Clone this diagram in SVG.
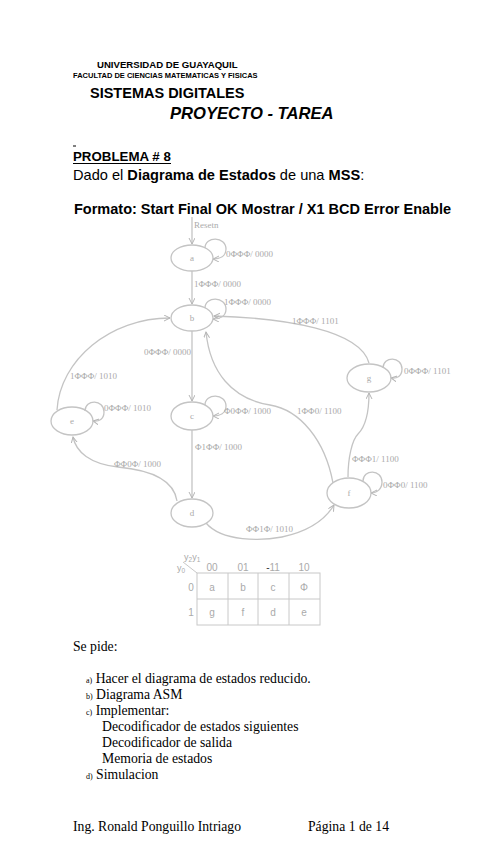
<svg xmlns="http://www.w3.org/2000/svg" width="494" height="848" viewBox="0 0 494 848">
<style>
.sans{font-family:"Liberation Sans",Arial,sans-serif}
.serif{font-family:"Liberation Serif","Times New Roman",serif}
.hb{font-weight:bold;fill:#000}
.lbl{font-family:"Liberation Serif","Times New Roman",serif;font-size:9px;fill:#aaaaaa}
.nd{fill:none;stroke:#c4c4c4;stroke-width:1.3}
.ndt{font-family:"Liberation Serif","Times New Roman",serif;font-size:9px;fill:#aaaaaa;text-anchor:middle}
.edge{fill:none;stroke:#c4c4c4;stroke-width:1.3;marker-end:url(#arr)}
.grid{fill:none;stroke:#c8c8c8;stroke-width:1}
.kt{font-family:"Liberation Sans",Arial,sans-serif;font-size:10px;fill:#aaaaaa;text-anchor:middle}
.body{font-family:"Liberation Serif","Times New Roman",serif;font-size:13.7px;fill:#000}
.sm{font-size:8px}
</style>
<defs>
<marker id="arr" markerWidth="8" markerHeight="8" refX="6" refY="3" orient="auto" markerUnits="userSpaceOnUse">
<path d="M0,0 L6,3 L0,6" fill="none" stroke="#b4b4b4" stroke-width="1"/>
</marker>
</defs>
<rect width="494" height="848" fill="#fff"/>

<g id="header">
<text class="sans hb" x="97" y="68" font-size="9.6">UNIVERSIDAD DE GUAYAQUIL</text>
<text class="sans hb" x="73" y="78" font-size="7.5">FACULTAD DE CIENCIAS MATEMATICAS Y FISICAS</text>
<text class="sans hb" x="90" y="98" font-size="14.5">SISTEMAS DIGITALES</text>
<text class="sans hb" x="170" y="119" font-size="16.6" font-style="italic">PROYECTO - TAREA</text>
<line x1="73" y1="146" x2="76" y2="146" stroke="#000" stroke-width="1"/>
<text class="sans hb" x="73" y="161" font-size="13.3">PROBLEMA # 8</text>
<line x1="73" y1="163.5" x2="171" y2="163.5" stroke="#000" stroke-width="1"/>
<text class="sans" x="73" y="180" font-size="14.6" fill="#000">Dado el <tspan font-weight="bold">Diagrama de Estados</tspan> de una <tspan font-weight="bold">MSS</tspan>:</text>
<text class="sans hb" x="74" y="214" font-size="14.5">Formato: Start Final OK Mostrar / X1 BCD Error Enable</text>
</g>

<g id="connectors">
<line class="edge" x1="192" y1="217" x2="192" y2="244"/>
<text class="lbl" x="194" y="228" font-size="7">Resetn</text>
<line class="edge" x1="192" y1="271" x2="192" y2="304"/>
<line class="edge" x1="192" y1="331" x2="192" y2="401"/>
<line class="edge" x1="192" y1="430" x2="192" y2="498"/>
<path class="edge" d="M57,410 C60,360 110,318 170,318"/>
<path class="edge" d="M177,501 C174,480 150,470 118,467 C90,464 76,452 73,437"/>
<path class="edge" d="M369,363 C360,330 285,318 214,316"/>
<path class="edge" d="M333,483 C325,440 300,410 270,405 C232,399 210,372 206,332"/>
<path class="edge" d="M348,477 C348,458 352,440 358,434 C366,426 369,410 369,393"/>
<path class="edge" d="M206,523 C222,542 262,541 282,537 C310,531 325,520 334,505"/>
<path class="edge" d="M205,248 C205,236 226,236 226,249 C226,256 220,259 213,259"/>
<path class="edge" d="M205,308 C205,296 226,296 226,309 C226,316 220,319 213,319"/>
<path class="edge" d="M205,405 C205,393 226,393 226,406 C226,413 220,416 213,416"/>
<path class="edge" d="M85,411 C85,399 104,399 104,412 C104,419 99,422 93,421"/>
<path class="edge" d="M383,368 C383,356 402,356 402,369 C402,376 397,379 391,378"/>
<path class="edge" d="M363,481 C363,469 382,469 382,482 C382,489 377,493 371,493"/>
<text class="lbl" x="226" y="257">0ΦΦΦ/ 0000</text>
<text class="lbl" x="194" y="287">1ΦΦΦ/ 0000</text>
<text class="lbl" x="224" y="305">1ΦΦΦ/ 0000</text>
<text class="lbl" x="292" y="324">1ΦΦΦ/ 1101</text>
<text class="lbl" x="144" y="355">0ΦΦΦ/ 0000</text>
<text class="lbl" x="70" y="379">1ΦΦΦ/ 1010</text>
<text class="lbl" x="404" y="374">0ΦΦΦ/ 1101</text>
<text class="lbl" x="104" y="411">0ΦΦΦ/ 1010</text>
<text class="lbl" x="224" y="414">Φ0ΦΦ/ 1000</text>
<text class="lbl" x="297" y="414">1ΦΦ0/ 1100</text>
<text class="lbl" x="195" y="450">Φ1ΦΦ/ 1000</text>
<text class="lbl" x="114" y="467">ΦΦ0Φ/ 1000</text>
<text class="lbl" x="352" y="462">ΦΦΦ1/ 1100</text>
<text class="lbl" x="383" y="488">0ΦΦ0/ 1100</text>
<text class="lbl" x="246" y="532">ΦΦ1Φ/ 1010</text>
</g>

<g id="node-a"><ellipse class="nd" cx="192" cy="258" rx="21" ry="13"/><text class="ndt" x="192" y="261">a</text></g>
<g id="node-b"><ellipse class="nd" cx="192" cy="318" rx="21" ry="13"/><text class="ndt" x="192" y="321">b</text></g>
<g id="node-c"><ellipse class="nd" cx="192" cy="416" rx="21" ry="14"/><text class="ndt" x="192" y="419">c</text></g>
<g id="node-d"><ellipse class="nd" cx="192" cy="513" rx="21" ry="14"/><text class="ndt" x="192" y="516">d</text></g>
<g id="node-e"><ellipse class="nd" cx="72" cy="421" rx="21" ry="14"/><text class="ndt" x="72" y="424">e</text></g>
<g id="node-f"><ellipse class="nd" cx="349" cy="493" rx="22" ry="15"/><text class="ndt" x="349" y="496">f</text></g>
<g id="node-g"><ellipse class="nd" cx="369" cy="378" rx="22" ry="14"/><text class="ndt" x="369" y="381">g</text></g>

<g id="kmap">
<rect class="grid" x="197" y="573" width="123" height="52"/>
<line class="grid" x1="197" y1="599" x2="320" y2="599"/>
<line class="grid" x1="228" y1="573" x2="228" y2="625"/>
<line class="grid" x1="258" y1="573" x2="258" y2="625"/>
<line class="grid" x1="289" y1="573" x2="289" y2="625"/>
<line class="grid" x1="183" y1="562" x2="197" y2="573"/>
<text class="sans" x="184" y="560" font-size="9" fill="#aaa">y<tspan font-size="6.5" dy="2">2</tspan><tspan dy="-2">y</tspan><tspan font-size="6.5" dy="2">1</tspan></text>
<text class="sans" x="177" y="571" font-size="9" fill="#aaa">y<tspan font-size="6.5" dy="2">0</tspan></text>
<text class="kt" x="212" y="571">00</text>
<text class="kt" x="243" y="571">01</text>
<text class="kt" x="273" y="571"><tspan fill="#333">-</tspan>11</text>
<text class="kt" x="304" y="571">10</text>
<text class="kt" x="191" y="591">0</text>
<text class="kt" x="191" y="616">1</text>
<text class="kt" x="212" y="591">a</text>
<text class="kt" x="243" y="591">b</text>
<text class="kt" x="273" y="591">c</text>
<text class="kt" x="304" y="591">Φ</text>
<text class="kt" x="212" y="616">g</text>
<text class="kt" x="243" y="616">f</text>
<text class="kt" x="273" y="616">d</text>
<text class="kt" x="304" y="616">e</text>
</g>

<g id="body">
<text class="body" x="73" y="651" font-size="14">Se pide:</text>
<text class="body" x="86" y="683"><tspan class="sm">a)</tspan> Hacer el diagrama de estados reducido.</text>
<text class="body" x="86" y="699"><tspan class="sm">b)</tspan> Diagrama ASM</text>
<text class="body" x="86" y="715"><tspan class="sm">c)</tspan> Implementar:</text>
<text class="body" x="102" y="731">Decodificador de estados siguientes</text>
<text class="body" x="102" y="747">Decodificador de salida</text>
<text class="body" x="102" y="763">Memoria de estados</text>
<text class="body" x="86" y="779"><tspan class="sm">d)</tspan> Simulacion</text>
<text class="body" x="73" y="831" font-size="15.4">Ing. Ronald Ponguillo Intriago</text>
<text class="body" x="308" y="831" font-size="15.4">Página 1 de 14</text>
</g>
</svg>
